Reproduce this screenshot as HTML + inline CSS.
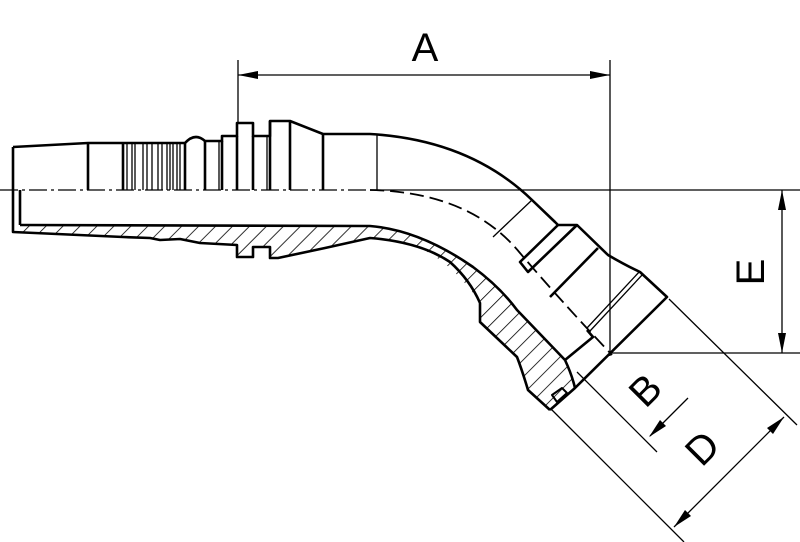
<!DOCTYPE html>
<html><head><meta charset="utf-8"><style>
html,body{margin:0;padding:0;background:#fff;}
svg{display:block;}
text{font-family:"Liberation Sans","DejaVu Sans",sans-serif;fill:#000;}
</style></head><body>
<svg width="800" height="542" viewBox="0 0 800 542" xmlns="http://www.w3.org/2000/svg">
<defs>
<pattern id="h" patternUnits="userSpaceOnUse" width="12" height="12" patternTransform="rotate(45)">
<line x1="0" y1="0" x2="0" y2="12" stroke="#000" stroke-width="1.6"/>
</pattern>
</defs>
<path d="M13,225 L370,226 Q420,230 473,267 Q500,287 517,310 L565,360 L575,388 L550,410 L528,390 L517,357 L480,322 L480,303 Q455,265 420,248 Q400,240 370,238 L325,248 L278,258 L270,258 L270,247 L253,247 L253,257 L237,257 L237,246 L200,243 L180,240 L123,237 L13,233 Z" fill="url(#h)" stroke="none"/>
<g fill="none" stroke="#000" stroke-width="2.6" stroke-linejoin="round">
<path d="M20,225 L370,226 Q420,230 473,267 Q500,287 517,310 L565,360"/>
<path d="M13,147 L13,232 L123,237 L150,238 L160,240 L180,239 L200,243 L237,245 L237,257 L253,257 L253,247 L270,247 L270,258 L278,258 L325,248 L370,238 Q420,242 450,262 Q470,280 480,303 L480,322 L517,357 Q522,370 528,390 L550,410"/>
<path d="M13,147 L88,143 L123,143 L185,143 Q195,132 205,141 L222,141 L222,136 L237,136 L237,123 L253,123 L253,136 L270,136 L270,121 L290,121 L323,134 L370,134 Q470,140 532,200 L555,222 L558,225 L577,225 L608,255 Q625,265 640,272 L667,297 L575,388 L550,410"/>
<path d="M88,143 L88,190 M123,143 L123,190 M185,143 L185,190 M205,141 L205,190 M222,141 L222,190 M237,136 L237,190 M253,136 L253,190 M270,121 L270,190 M290,121 L290,190 M323,134 L323,190 M20,190 L20,225"/>
<path d="M558,225 L520,262 L528,272 L577,225 M598,248 L550,297"/>
<path d="M565,360 L593,337 L587,330"/>
<path d="M575,388 Q572,375 565,360"/>
<path d="M552,395 L562,388 L567,393 L557,402 Z" stroke-width="2"/>
</g>
<g fill="none" stroke="#000" stroke-width="1.3">
<path d="M127,143 L127,190 M132,143 L132,190 M135,143 L135,190 M143,143 L143,190 M147,143 L147,190 M152,143 L152,190 M158,143 L158,190 M162,143 L162,190 M167,143 L167,190 M170,143 L170,190 M173,143 L173,190 M177,143 L177,190 M180,143 L180,190 M377,134 L377,190 M219,141 L219,190 M267,136 L267,190"/>
<path d="M532,200 L493,237"/>
<path d="M640,271 L587,328 M643,274 L590,331"/>
<path d="M0,190 L370,190" stroke-dasharray="18,4,3,4"/>
<path d="M370,190 Q470,192 520,253 Q560,300 612,355" stroke-dasharray="14,6" stroke-width="1.8"/>
<path d="M370,190 L800,190"/>
<path d="M238,60 L238,122 M610,60 L610,356 M238,75 L610,75"/>
<path d="M612,353 L800,353 M782,190 L782,353"/>
<path d="M669,299 L797,425 M552,410 L684,542 M674,527 L784,417"/>
<path d="M577,372 L657,452 M688,398 L650,436"/>
</g>
<g fill="#000" stroke="none">
<path d="M238,75 L258,71 L258,79 Z"/>
<path d="M610,75 L590,71 L590,79 Z"/>
<path d="M782,190 L778,210 L786,210 Z"/>
<path d="M782,353 L778,333 L786,333 Z"/>
<path d="M674,527 L685,510 L691,516 Z"/>
<path d="M784,417 L767,428 L773,434 Z"/>
<path d="M649,437 L660,420 L666,426 Z"/>
</g>
<text x="425" y="61" font-size="40" text-anchor="middle">A</text>
<text transform="translate(750,272) rotate(-90)" font-size="40" text-anchor="middle" dy="14">E</text>
<text transform="translate(645,390) rotate(-45)" font-size="40" text-anchor="middle" dy="14">B</text>
<text transform="translate(702,448) rotate(-45)" font-size="40" text-anchor="middle" dy="14">D</text>
</svg>
</body></html>
